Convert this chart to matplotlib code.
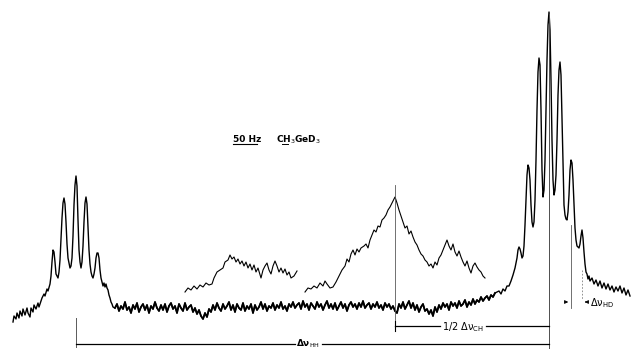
import numpy as np
import matplotlib.pyplot as plt

# trace positions (x along the sweep, y = pen row, 0 at top)
left_x = [13, 14, 16, 17, 19, 20, 22, 23, 25, 27, 28, 30, 31, 33, 34, 36, 38, 39, 41, 42,
          44, 45, 47, 48, 50, 51, 52, 53, 54, 55, 56, 58, 59, 60, 61, 62, 63, 64, 65, 66,
          67, 68, 70, 71, 72, 73, 74, 75, 76, 77, 78, 79, 80, 81, 82, 83, 84, 85, 86, 87,
          88, 89, 90, 91, 92, 93, 94, 95, 96, 97, 98, 99, 100, 101, 102, 103, 104, 105, 106, 107,
          108, 109, 110, 111, 112, 113]
left_y = [322, 316, 319, 313, 318, 311, 316, 309, 315, 308, 313, 317, 308, 312, 305, 309, 303, 307, 301, 298,
          294, 296, 289, 291, 284, 276, 262, 250, 252, 262, 274, 278, 272, 260, 240, 218, 203, 198, 204, 222,
          244, 258, 268, 266, 258, 236, 205, 185, 176, 186, 220, 250, 262, 268, 262, 246, 222, 203, 197, 204,
          228, 250, 264, 272, 276, 278, 274, 268, 258, 253, 253, 258, 270, 278, 282, 286, 283, 287, 284, 288,
          290, 295, 298, 302, 304, 307]

# baseline, sampled every 2 px from x = 115
base_x0, base_dx = 115, 2
base_y = [308, 304, 311, 306, 309, 302, 310, 307, 313, 305,
          309, 303, 312, 307, 304, 310, 305, 313, 306, 309,
          302, 308, 311, 305, 310, 304, 312, 306, 303, 309,
          306, 313, 304, 308, 311, 303, 310, 307, 305, 312,
          308, 314, 310, 316, 319, 313, 317, 309, 312, 305,
          310, 303, 308, 311, 304, 309, 306, 302, 310, 305,
          312, 304, 308, 310, 303, 311, 306, 309, 304, 313,
          305, 310, 307, 302, 309, 304, 311, 306, 308, 303,
          310, 305, 308, 302, 309, 306, 311, 304, 307, 302,
          308, 305, 303, 309, 301, 307, 304, 310, 303, 306,
          309, 302, 307, 304, 310, 305, 301, 308, 304, 309,
          303, 310, 306, 302, 308, 304, 311, 305, 302, 307,
          304, 309, 303, 307, 301, 308, 305, 303, 309, 304,
          307, 302, 308, 305, 310, 303, 307, 304, 309, 306,
          311, 313, 304, 308, 302, 309, 305, 301, 308, 303,
          310, 305, 312, 307, 304, 311, 309, 314, 310, 316,
          307, 312, 305, 309, 303, 307, 304, 310, 302, 306,
          303, 308, 301, 306, 304, 300, 307, 302, 305, 299,
          304, 300, 302, 297, 301, 298, 296, 300, 295, 297,
          293]

right_x = [499, 501, 503, 505, 507, 509, 511, 513, 515, 517, 518, 519, 520, 521, 522, 523, 524, 525, 526, 527,
           528, 529, 530, 531, 532, 533, 534, 535, 536, 537, 538, 539, 540, 541, 542, 543, 544, 545, 546, 547,
           548, 549, 550, 551, 552, 553, 554, 555, 556, 557, 558, 559, 560, 561, 562, 563, 564, 565, 566, 567,
           568, 569, 570, 571, 572, 573, 574, 575, 576, 577, 578, 579, 580, 581, 582, 583, 584, 585, 586, 587,
           588, 589, 590, 592, 594, 596, 598, 600, 602, 604, 606, 608, 610, 612, 614, 616, 618, 620, 622, 624,
           626, 628, 630]
right_y = [291, 294, 289, 291, 286, 286, 281, 275, 268, 258, 250, 247, 249, 253, 258, 256, 246, 225, 200, 175,
           165, 168, 180, 205, 222, 227, 222, 200, 160, 110, 72, 58, 65, 110, 170, 197, 190, 160, 110, 60,
           25, 12, 30, 80, 140, 180, 195, 190, 175, 140, 95, 70, 62, 75, 120, 170, 205, 215, 219, 220,
           212, 195, 170, 160, 163, 180, 205, 228, 240, 246, 247, 248, 244, 236, 230, 238, 252, 264, 272, 274,
           279, 276, 281, 278, 284, 280, 286, 281, 288, 283, 289, 284, 290, 286, 292, 287, 291, 286, 293, 288,
           295, 290, 296]

# expanded insets (higher gain)
inset1_x = [185, 188, 191, 194, 197, 200, 203, 206, 209, 212, 214, 217, 220, 223, 225, 228, 230, 232, 234, 236,
            238, 240, 242, 244, 246, 248, 250, 252, 254, 256, 258, 261, 263, 265, 267, 269, 271, 273, 275, 277,
            279, 281, 283, 285, 287, 289, 291, 294, 297]
inset1_y = [292, 288, 290, 286, 289, 285, 287, 283, 285, 284, 278, 272, 270, 268, 262, 260, 255, 259, 257, 262,
            259, 264, 261, 266, 262, 268, 264, 270, 265, 272, 268, 278, 270, 266, 263, 270, 274, 266, 261, 266,
            272, 268, 273, 269, 275, 272, 278, 276, 271]

inset2_x = [305, 308, 311, 314, 317, 320, 323, 325, 327, 330, 333, 336, 339, 342, 345, 347, 349, 351, 353, 355,
            357, 359, 361, 364, 366, 368, 370, 372, 374, 376, 378, 380, 382, 384, 386, 388, 390, 392, 394, 395,
            397, 399, 401, 403, 405, 407, 409, 411, 413, 415, 417, 419, 421, 423, 425, 427, 429, 431, 433, 435,
            437, 439, 441, 443, 445, 447, 449, 451, 453, 455, 457, 459, 461, 463, 465, 467, 469, 471, 473, 475,
            477, 479, 481, 483, 485]
inset2_y = [292, 288, 289, 286, 288, 283, 286, 281, 284, 288, 287, 282, 276, 270, 266, 259, 262, 254, 250, 255,
            249, 252, 248, 246, 244, 248, 240, 235, 230, 232, 226, 227, 220, 218, 215, 210, 207, 203, 199, 197,
            203, 210, 216, 222, 228, 226, 234, 231, 237, 242, 245, 250, 254, 256, 260, 262, 266, 264, 268, 262,
            265, 258, 255, 250, 245, 240, 246, 250, 244, 252, 256, 251, 257, 262, 266, 261, 268, 273, 266, 263,
            267, 270, 272, 276, 278]

# spacing markers
x_ref_left = 76
x_ref_mid = 395
x_ref_right = 549
x_hd = [571, 582]

fig = plt.figure(figsize=(6.31, 3.49), dpi=100)
ax = fig.add_axes([0, 0, 1, 1])
ax.set_xlim(0, 631)
ax.set_ylim(349, 0)
ax.axis("off")

base_x = base_x0 + base_dx * np.arange(len(base_y))
trace_x = np.concatenate([left_x, base_x, right_x])
trace_y = np.concatenate([left_y, base_y, right_y])
ax.plot(trace_x, trace_y, color="black", lw=1.0)
# noisy baseline is drawn heavier on the chart paper
ax.plot(base_x, base_y, color="black", lw=1.3)
ax.plot(inset1_x, inset1_y, color="black", lw=0.8)
ax.plot(inset2_x, inset2_y, color="black", lw=0.8)

# vertical reference lines
ax.plot([x_ref_left, x_ref_left], [318, 347], color="0.35", lw=0.7)
ax.plot([x_ref_mid, x_ref_mid], [185, 330], color="0.35", lw=0.6)
ax.plot([x_ref_right, x_ref_right], [14, 348], color="0.3", lw=0.7)
ax.plot([x_hd[0], x_hd[0]], [225, 308], color="0.35", lw=0.6)
ax.plot([x_hd[1], x_hd[1]], [270, 300], color="0.5", lw=0.6, ls=(0, (2, 2)))

# brackets
ax.plot([x_ref_left, 295], [344, 344], color="black", lw=0.9)
ax.plot([322, x_ref_right], [344, 344], color="black", lw=0.9)
ax.text(308, 344, r"Δν$_\mathrm{HH}$", fontsize=6.5, ha="center", va="center",
        fontweight="bold")
ax.plot([x_ref_mid, 440], [326, 326], color="black", lw=0.9)
ax.plot([486, x_ref_right], [326, 326], color="black", lw=0.9)
ax.plot([x_ref_mid, x_ref_mid], [321, 331], color="black", lw=0.8)
ax.text(463, 327, r"1/2 Δν$_\mathrm{CH}$", fontsize=7, ha="center", va="center")

ax.annotate("", xy=(x_hd[0], 302), xytext=(563, 302),
            arrowprops=dict(arrowstyle="-|>", lw=0.6, color="black",
                            mutation_scale=5))
ax.annotate("", xy=(x_hd[1], 302), xytext=(589, 302),
            arrowprops=dict(arrowstyle="-|>", lw=0.6, color="black",
                            mutation_scale=5))
ax.text(590, 303, r"Δν$_\mathrm{HD}$", fontsize=7, ha="left", va="center")

# sample label
ax.text(233, 140, "50 Hz", fontsize=6.5, ha="left", va="center",
        fontweight="bold")
ax.plot([233, 257], [144, 144], color="black", lw=0.8)
ax.text(276, 140, r"CH$_\mathrm{3}$GeD$_\mathrm{3}$", fontsize=6.5, ha="left",
        va="center", fontweight="bold")
ax.plot([282, 288], [144, 144], color="black", lw=0.7)

fig.savefig("out.png", dpi=100)
